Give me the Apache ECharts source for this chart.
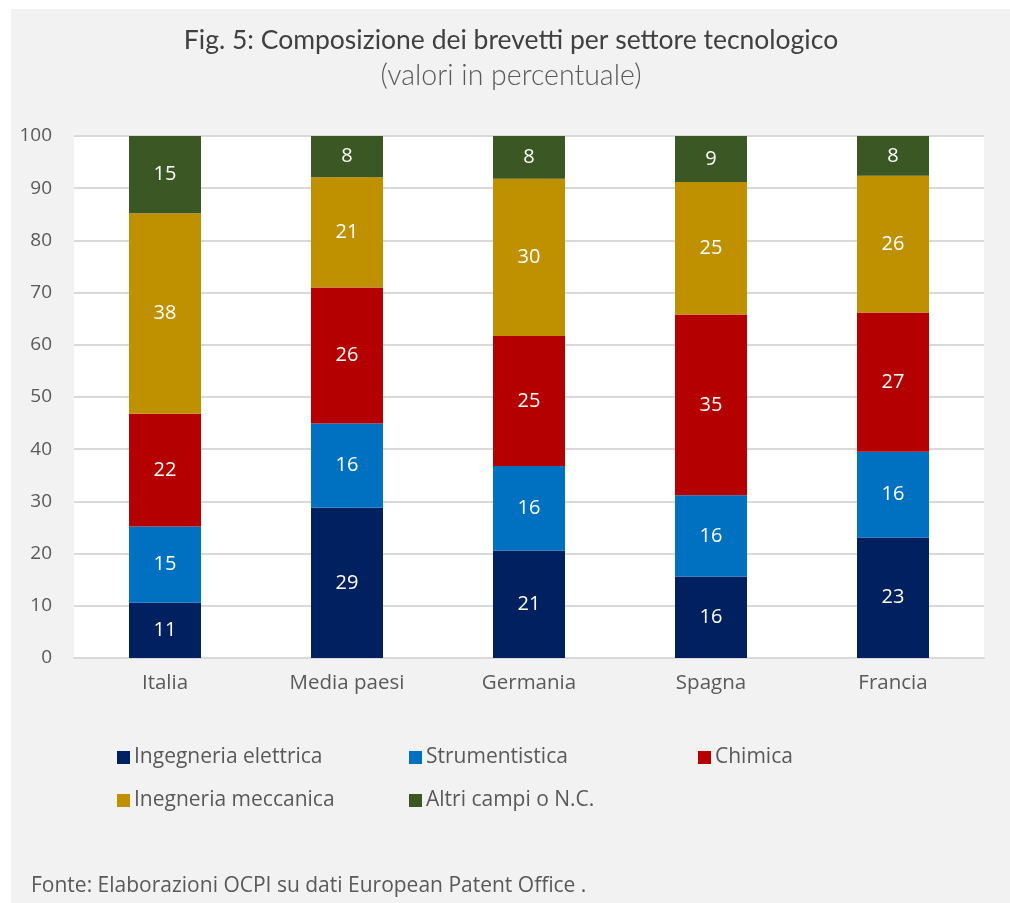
<!DOCTYPE html>
<html>
<head>
<meta charset="utf-8">
<script src="https://cdn.jsdelivr.net/npm/echarts@6/dist/echarts.min.js"></script>
<style>
  html, body { margin: 0; padding: 0; background: #ffffff; }
  #wrap { position: relative; width: 1010px; height: 903px; }
  #panel { position: absolute; left: 11px; top: 9px; width: 999px; height: 894px; background: #f2f2f2; }
  #chart { position: absolute; left: 0; top: 0; width: 1010px; height: 903px; }
</style>
</head>
<body>
<div id="wrap"><div id="panel"></div><div id="chart"></div></div>
<script>
const categories = ['Italia', 'Media paesi', 'Germania', 'Spagna', 'Francia'];
const seriesNames = ['Ingegneria elettrica', 'Strumentistica', 'Chimica', 'Inegneria meccanica', 'Altri campi o N.C.'];
const ingegneriaElettrica = [10.6, 28.8, 20.6, 15.6, 23.1];
const strumentistica      = [14.6, 16.1, 16.2, 15.6, 16.4];
const chimica             = [21.6, 26.1, 24.9, 34.6, 26.7];
const ingegneriaMeccanica = [38.4, 21.1, 30.1, 25.4, 26.2];
const altriCampi          = [14.8, 7.9, 8.2, 8.8, 7.6];
const yTicks = [0, 10, 20, 30, 40, 50, 60, 70, 80, 90, 100];

const colors = ['#002060', '#0070c0', '#b50000', '#bf9000', '#3a5724'];
const values = [ingegneriaElettrica, strumentistica, chimica, ingegneriaMeccanica, altriCampi];
const FONT = 'Open Sans';

const chart = echarts.init(document.getElementById('chart'), null, { renderer: 'canvas' });

const series = seriesNames.map((name, i) => ({
  name: name,
  type: 'bar',
  stack: 'tot',
  barWidth: 72,
  data: values[i],
  itemStyle: { color: colors[i] },
  label: {
    show: true,
    position: 'inside',
    color: '#ffffff',
    fontFamily: FONT,
    fontSize: 20,
    formatter: p => Math.round(p.value)
  },
  emphasis: { disabled: true }
}));

// legend item positions (icon left, top)
const legendPos = [[117, 747], [409, 747], [698, 747], [117, 790], [409, 790]];
const legends = seriesNames.map((name, i) => ({
  orient: 'horizontal',
  left: legendPos[i][0],
  top: legendPos[i][1],
  padding: 0,
  itemWidth: 13,
  itemHeight: 13,
  itemGap: 0,
  icon: 'rect',
  selectedMode: false,
  data: [name],
  textStyle: { color: '#595959', fontFamily: FONT, fontSize: 21, padding: [0, 0, 0, -1] }
}));

chart.setOption({
  backgroundColor: 'transparent',
  animation: false,
  color: colors,
  title: [{
    text: 'Fig. 5: Composizione dei brevetti per settore tecnologico',
    left: 506,
    top: 22,
    textAlign: 'center',
    textStyle: { color: '#404040', fontFamily: 'Lato', fontWeight: 'normal', fontSize: 26.5 }
  }, {
    text: '(valori in percentuale)',
    left: 506,
    top: 56,
    textAlign: 'center',
    textStyle: { color: '#595959', fontFamily: 'Lato', fontWeight: 300, fontSize: 28.5 }
  }],
  legend: legends,
  grid: {
    left: 74, right: 26, top: 136, bottom: 245,
    show: true, backgroundColor: '#ffffff', borderWidth: 0
  },
  xAxis: {
    type: 'category',
    data: categories,
    axisLine: { lineStyle: { color: '#d9d9d9', width: 2 } },
    axisTick: { show: false },
    axisLabel: { color: '#595959', fontFamily: FONT, fontSize: 20.5, margin: 15 }
  },
  yAxis: {
    type: 'value',
    min: yTicks[0],
    max: yTicks[yTicks.length - 1],
    interval: yTicks[1] - yTicks[0],
    axisLine: { show: false },
    axisTick: { show: false },
    axisLabel: { color: '#595959', fontFamily: FONT, fontSize: 19, margin: 22 },
    splitLine: { lineStyle: { color: '#d9d9d9', width: 2 } }
  },
  graphic: [{
    type: 'text',
    left: 31,
    top: 876,
    style: {
      text: 'Fonte: Elaborazioni OCPI su dati European Patent Office .',
      fill: '#595959',
      font: '21px "Open Sans"'
    }
  }],
  series: series
});
</script>
</body>
</html>
